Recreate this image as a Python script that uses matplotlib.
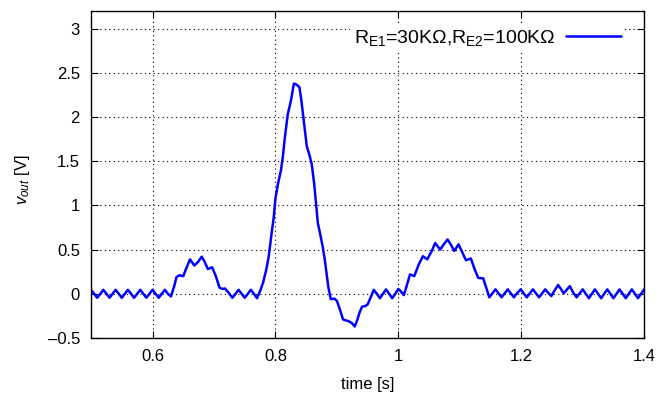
import numpy as np
import matplotlib
matplotlib.use("Agg")
import matplotlib.pyplot as plt

# values (time in s, vout in V)
time_s = [
    0.500, 0.505, 0.510, 0.515, 0.520, 0.525, 0.530, 0.535, 0.540, 0.545,
    0.550, 0.555, 0.560, 0.565, 0.570, 0.575, 0.580, 0.585, 0.590, 0.595,
    0.600, 0.605, 0.610, 0.615, 0.620, 0.625, 0.630, 0.635, 0.639, 0.644,
    0.650, 0.655, 0.661, 0.668, 0.674, 0.680, 0.685, 0.690, 0.697, 0.703,
    0.709, 0.713, 0.718, 0.724, 0.730, 0.735, 0.740, 0.745, 0.750, 0.755,
    0.760, 0.765, 0.770, 0.775, 0.780, 0.785, 0.789, 0.794, 0.797, 0.800,
    0.804, 0.809, 0.812, 0.815, 0.820, 0.825, 0.828, 0.830, 0.834, 0.839,
    0.842, 0.845, 0.848, 0.851, 0.855, 0.859, 0.863, 0.866, 0.869, 0.873,
    0.877, 0.880, 0.883, 0.886, 0.890, 0.896, 0.900, 0.905, 0.910, 0.914,
    0.919, 0.924, 0.929, 0.933, 0.937, 0.941, 0.946, 0.950, 0.955, 0.960,
    0.965, 0.970, 0.975, 0.980, 0.985, 0.990, 0.995, 1.000, 1.005, 1.009,
    1.014, 1.019, 1.026, 1.033, 1.040, 1.047, 1.054, 1.060, 1.068, 1.074,
    1.080, 1.086, 1.091, 1.098, 1.104, 1.110, 1.118, 1.124, 1.130, 1.138,
    1.143, 1.148, 1.153, 1.158, 1.163, 1.168, 1.173, 1.178, 1.183, 1.188,
    1.193, 1.199, 1.204, 1.209, 1.214, 1.219, 1.224, 1.229, 1.234, 1.239,
    1.244, 1.249, 1.254, 1.260, 1.265, 1.269, 1.274, 1.279, 1.284, 1.290,
    1.295, 1.300, 1.305, 1.310, 1.315, 1.320, 1.325, 1.330, 1.335, 1.340,
    1.345, 1.350, 1.355, 1.360, 1.365, 1.370, 1.375, 1.380, 1.385, 1.390,
    1.395, 1.400,
]
vout = [
    0.045, 0.0, -0.045, 0.0, 0.045, 0.0, -0.045, 0.0, 0.045, 0.0,
    -0.045, 0.0, 0.045, 0.0, -0.045, 0.0, 0.045, 0.0, -0.045, 0.0,
    0.045, 0.0, -0.045, 0.0, 0.045, 0.0, -0.03, 0.08, 0.19, 0.21,
    0.20, 0.29, 0.39, 0.32, 0.36, 0.42, 0.36, 0.28, 0.30, 0.20,
    0.07, 0.055, 0.06, 0.01, -0.045, 0.0, 0.045, 0.0, -0.045, 0.0,
    0.045, 0.0, -0.05, 0.03, 0.13, 0.27, 0.42, 0.70, 0.85, 1.08,
    1.24, 1.40, 1.55, 1.75, 2.03, 2.18, 2.30, 2.38, 2.37, 2.34,
    2.20, 2.02, 1.85, 1.67, 1.58, 1.47, 1.25, 1.02, 0.80, 0.67,
    0.53, 0.40, 0.24, 0.08, -0.06, -0.055, -0.08, -0.18, -0.29, -0.30,
    -0.31, -0.33, -0.37, -0.30, -0.21, -0.145, -0.14, -0.12, -0.04, 0.045,
    0.0, -0.05, 0.0, 0.05, 0.0, -0.05, 0.0, 0.055, 0.02, -0.015,
    0.10, 0.22, 0.20, 0.33, 0.425, 0.39, 0.48, 0.575, 0.50, 0.56,
    0.615, 0.55, 0.485, 0.56, 0.47, 0.38, 0.40, 0.28, 0.18, 0.175,
    0.07, -0.04, 0.005, 0.05, 0.005, -0.04, 0.005, 0.05, 0.005, -0.04,
    0.005, 0.05, 0.005, -0.04, 0.005, 0.05, 0.005, -0.04, 0.005, 0.05,
    0.01, -0.025, 0.035, 0.10, 0.05, 0.005, 0.045, 0.087, 0.02, -0.04,
    0.005, 0.05, 0.0, -0.05, 0.0, 0.05, 0.0, -0.05, 0.0, 0.05,
    0.0, -0.05, 0.0, 0.05, 0.0, -0.05, 0.0, 0.05, 0.0, -0.05,
    0.0, 0.05,
]

x_ticks = [0.6, 0.8, 1.0, 1.2, 1.4]
x_labels = ["0.6", "0.8", "1", "1.2", "1.4"]
y_ticks = [-0.5, 0, 0.5, 1, 1.5, 2, 2.5, 3]
y_labels = ["\u20130.5", "0", "0.5", "1", "1.5", "2", "2.5", "3"]
series_label = r"R$_{\mathrm{E1}}$=30K$\Omega$,R$_{\mathrm{E2}}$=100K$\Omega$"

plt.rcParams["font.family"] = ["Liberation Sans", "DejaVu Sans"]
plt.rcParams["mathtext.fontset"] = "custom"
plt.rcParams["mathtext.rm"] = "Liberation Sans"
plt.rcParams["mathtext.it"] = "Liberation Sans:italic"
plt.rcParams["font.size"] = 12

fig = plt.figure(figsize=(6.6, 3.99), dpi=100)
ax = fig.add_axes([0.138, 0.153, 0.838, 0.819])

ax.plot(time_s, vout, color="#0000ff", lw=1.8, label=series_label,
        solid_joinstyle="round", solid_capstyle="round")

ax.set_xlim(0.5, 1.4)
ax.set_ylim(-0.5, 3.2)
ax.set_xticks(x_ticks)
ax.set_xticklabels(x_labels)
ax.set_yticks(y_ticks)
ax.set_yticklabels(y_labels)
ax.tick_params(direction="in", top=True, right=True, length=5, width=0.8, pad=8)
ax.grid(True, color="black", linestyle=(0, (1, 3)), linewidth=0.8)
for s in ax.spines.values():
    s.set_linewidth(1.0)

ax.set_xlabel("time [s]", labelpad=9)
ax.set_ylabel(r"$v_{out}$ [V]")
ax.yaxis.set_label_coords(-0.107, 0.483)

leg = ax.legend(loc="upper right", bbox_to_anchor=(0.982, 0.99),
                markerfirst=False, frameon=True, fancybox=False,
                handlelength=2.8, handletextpad=0.55, borderpad=0.2,
                fontsize=14)
leg.get_frame().set_facecolor("white")
leg.get_frame().set_edgecolor("none")
leg.get_frame().set_alpha(1.0)

fig.savefig("out.png", dpi=100)
